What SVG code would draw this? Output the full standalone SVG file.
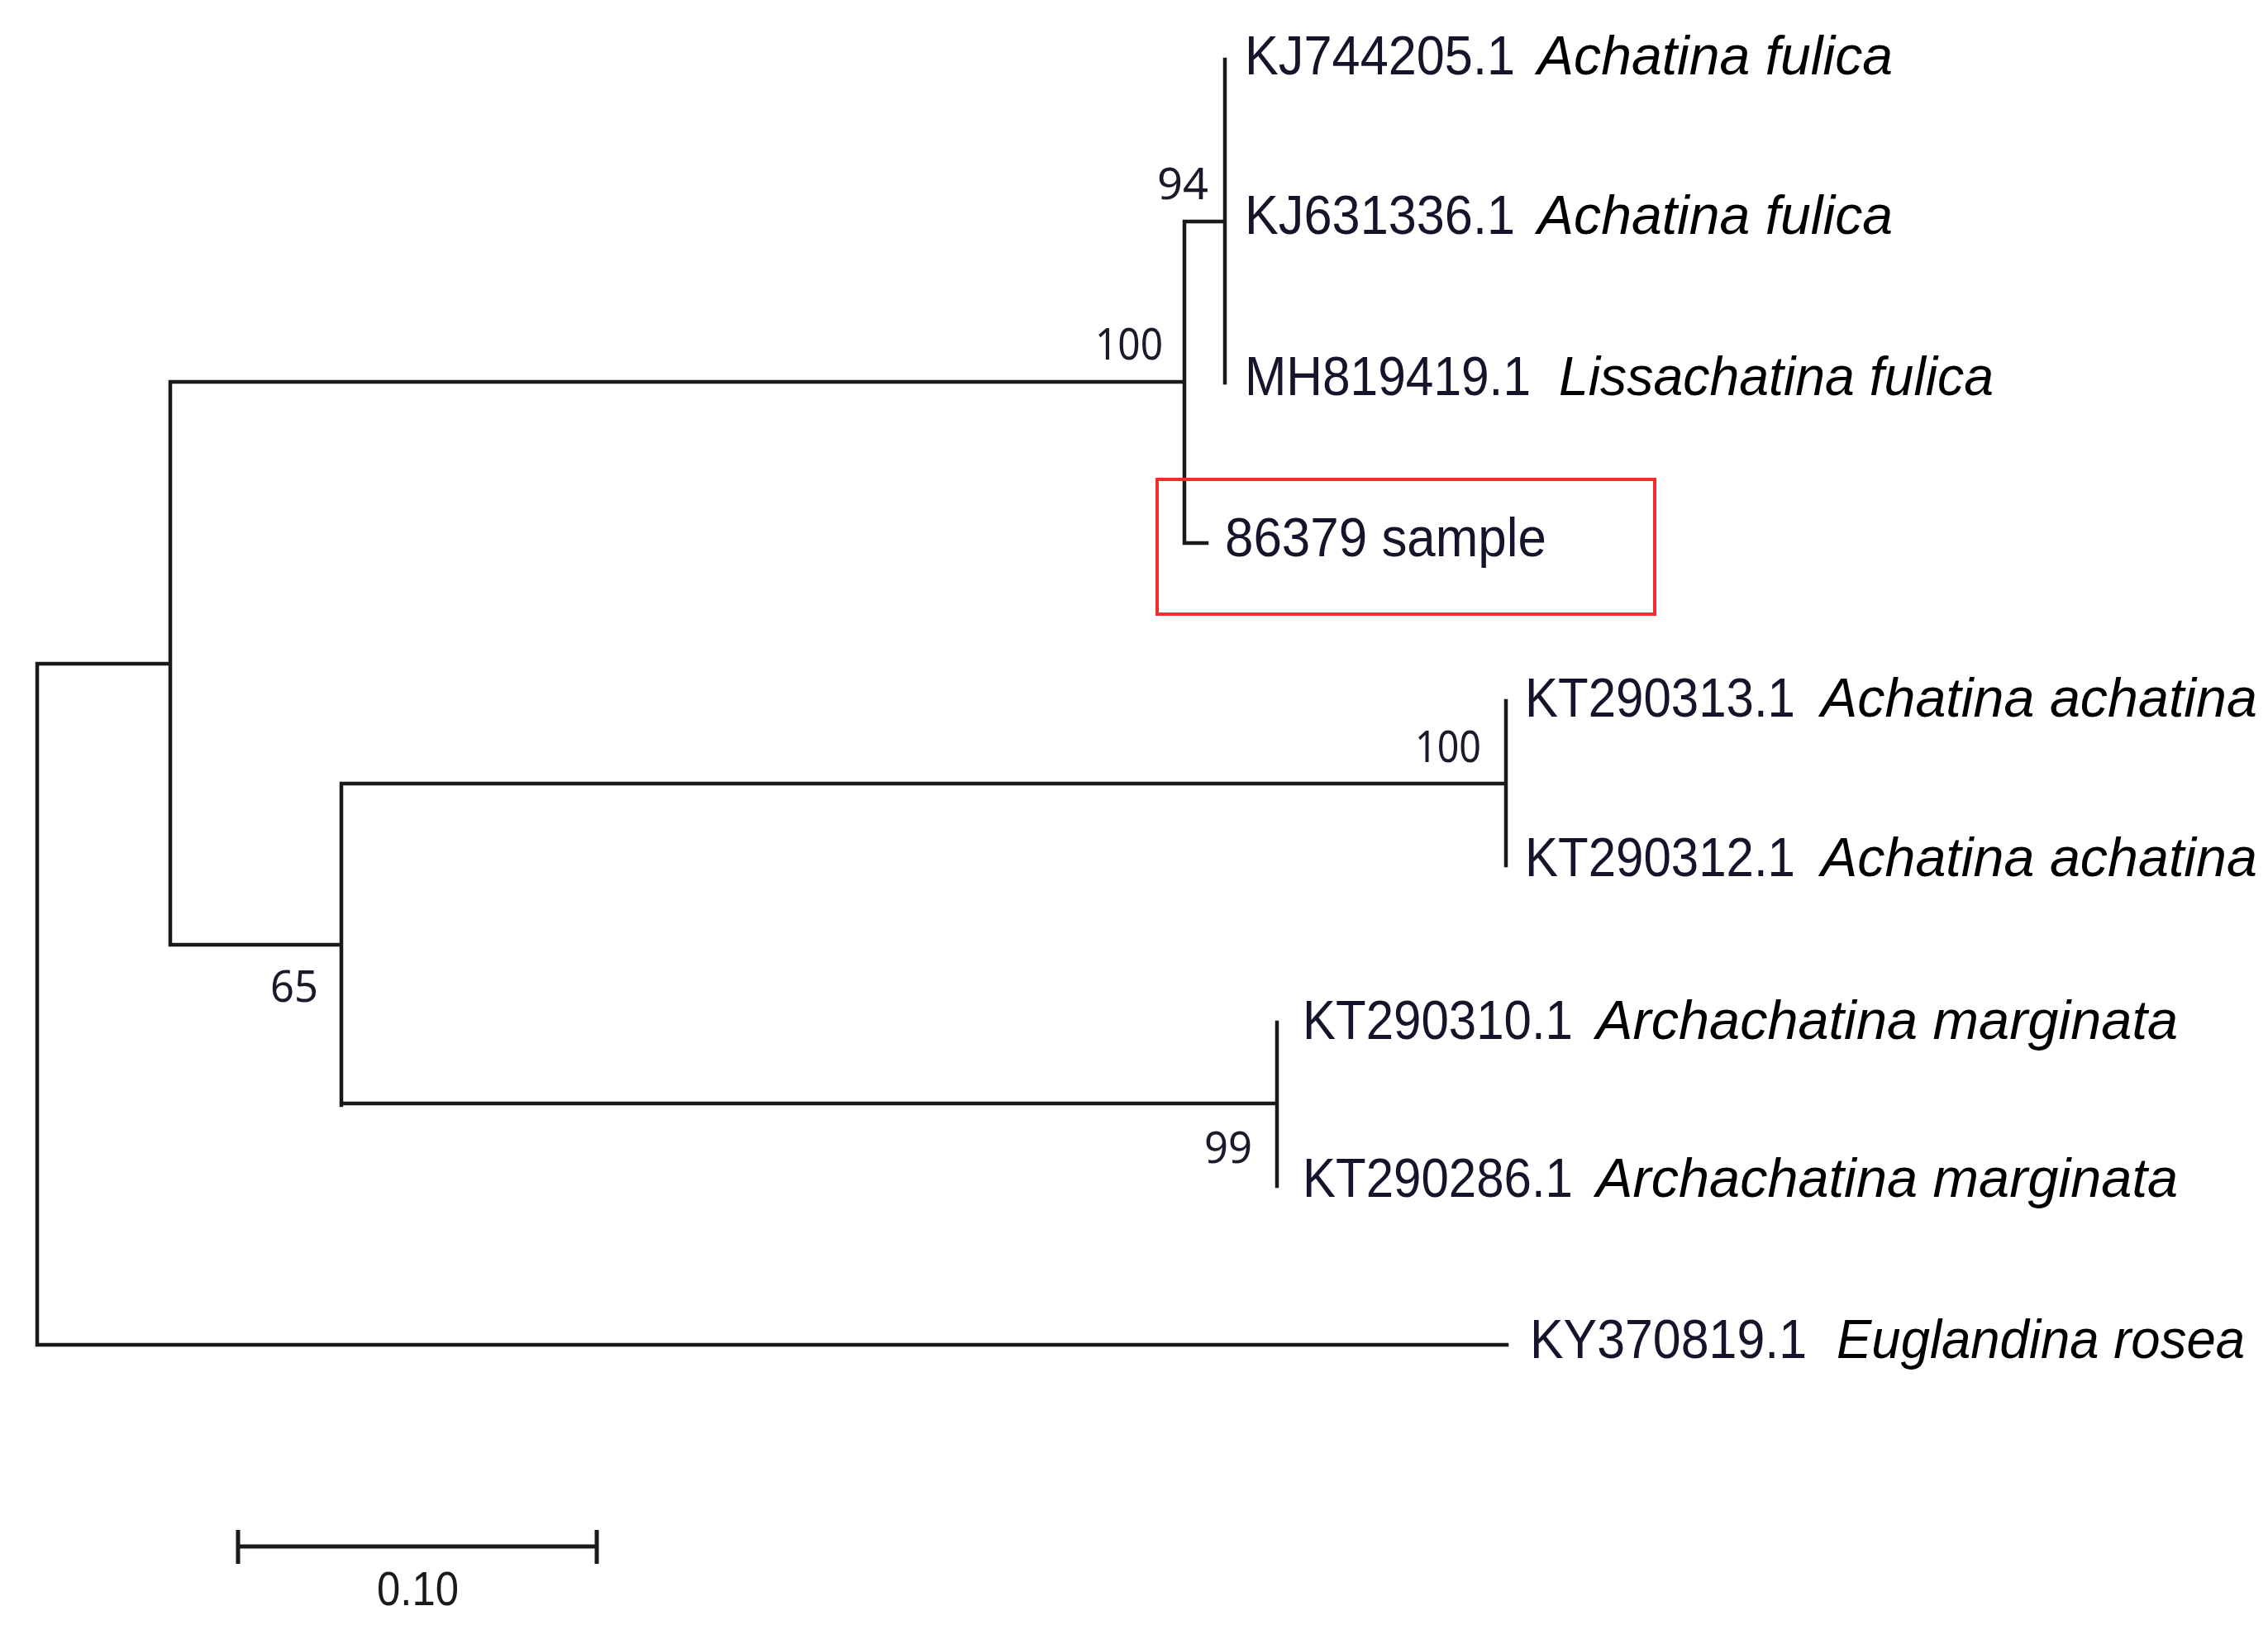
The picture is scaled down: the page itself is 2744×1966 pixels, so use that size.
<svg xmlns="http://www.w3.org/2000/svg" width="2744" height="1966" viewBox="0 0 2744 1966">
<style>
.br{stroke:#1a1a1a;stroke-width:4.5;fill:none;stroke-linecap:square}
.acc{font-family:"Liberation Sans",Arial,sans-serif;font-size:66px;fill:#14142a}
.sp{font-family:"Liberation Sans",Arial,sans-serif;font-size:66px;font-style:italic;fill:#000}
.bs{font-family:"Noto Sans","DejaVu Sans",sans-serif;font-size:52px;fill:#1a1a2a}
</style>
<rect width="2744" height="1966" fill="#fff"/>
<g id="connectors">
<path class="br" d="M45,803 V1627 M45,803 H206 M206,462 V1143 M206,462 H1433 M1433,268 V657 H1460 M1433,268 H1482 M1482,72 V463 M206,1143 H413 M413,948 V1337 M413,948 H1822 M1822,848 V1047 M413,1335 H1545 M1545,1237 V1435 M45,1627 H1823"/>
</g>
<g id="bootstrap">
<text class="bs" x="1400" y="241" textLength="62" lengthAdjust="spacingAndGlyphs">94</text>
<text class="bs" x="1325" y="435" textLength="82" lengthAdjust="spacingAndGlyphs">100</text>
<text class="bs" x="1712" y="922" textLength="80" lengthAdjust="spacingAndGlyphs">100</text>
<text class="bs" x="1457" y="1407" textLength="58" lengthAdjust="spacingAndGlyphs">99</text>
<text class="bs" x="327" y="1212" textLength="58" lengthAdjust="spacingAndGlyphs">65</text>
</g>
<g id="leaf-KJ744205">
<text class="acc" x="1506" y="90" textLength="327" lengthAdjust="spacingAndGlyphs">KJ744205.1</text>
<text class="sp" x="1860" y="90" textLength="430" lengthAdjust="spacingAndGlyphs">Achatina fulica</text>
</g>
<g id="leaf-KJ631336">
<text class="acc" x="1506" y="283" textLength="327" lengthAdjust="spacingAndGlyphs">KJ631336.1</text>
<text class="sp" x="1860" y="283" textLength="430" lengthAdjust="spacingAndGlyphs">Achatina fulica</text>
</g>
<g id="leaf-MH819419">
<text class="acc" x="1506" y="478" textLength="346" lengthAdjust="spacingAndGlyphs">MH819419.1</text>
<text class="sp" x="1886" y="478" textLength="526" lengthAdjust="spacingAndGlyphs">Lissachatina fulica</text>
</g>
<g id="leaf-sample">
<rect x="1400" y="580" width="602" height="163" fill="none" stroke="#f52a2a" stroke-width="4"/>
<text class="acc" x="1482" y="673" font-size="64" textLength="389" lengthAdjust="spacingAndGlyphs">86379 sample</text>
</g>
<g id="leaf-KT290313">
<text class="acc" x="1845" y="867" textLength="327" lengthAdjust="spacingAndGlyphs">KT290313.1</text>
<text class="sp" x="2203" y="867" textLength="528" lengthAdjust="spacingAndGlyphs">Achatina achatina</text>
</g>
<g id="leaf-KT290312">
<text class="acc" x="1845" y="1060" textLength="327" lengthAdjust="spacingAndGlyphs">KT290312.1</text>
<text class="sp" x="2203" y="1060" textLength="528" lengthAdjust="spacingAndGlyphs">Achatina achatina</text>
</g>
<g id="leaf-KT290310">
<text class="acc" x="1576" y="1257" textLength="327" lengthAdjust="spacingAndGlyphs">KT290310.1</text>
<text class="sp" x="1931" y="1257" textLength="704" lengthAdjust="spacingAndGlyphs">Archachatina marginata</text>
</g>
<g id="leaf-KT290286">
<text class="acc" x="1576" y="1448" textLength="327" lengthAdjust="spacingAndGlyphs">KT290286.1</text>
<text class="sp" x="1931" y="1448" textLength="704" lengthAdjust="spacingAndGlyphs">Archachatina marginata</text>
</g>
<g id="leaf-KY370819">
<text class="acc" x="1851" y="1643" textLength="335" lengthAdjust="spacingAndGlyphs">KY370819.1</text>
<text class="sp" x="2222" y="1643" textLength="494" lengthAdjust="spacingAndGlyphs">Euglandina rosea</text>
</g>
<g id="scale-bar">
<path d="M288,1871 H722 M288,1851 V1892 M722,1851 V1892" stroke="#1a1a1a" stroke-width="5" fill="none"/>
<text x="456" y="1942" font-family="Liberation Sans, Arial, sans-serif" font-size="58" fill="#1a1a1a" textLength="99" lengthAdjust="spacingAndGlyphs">0.10</text>
</g>
</svg>
